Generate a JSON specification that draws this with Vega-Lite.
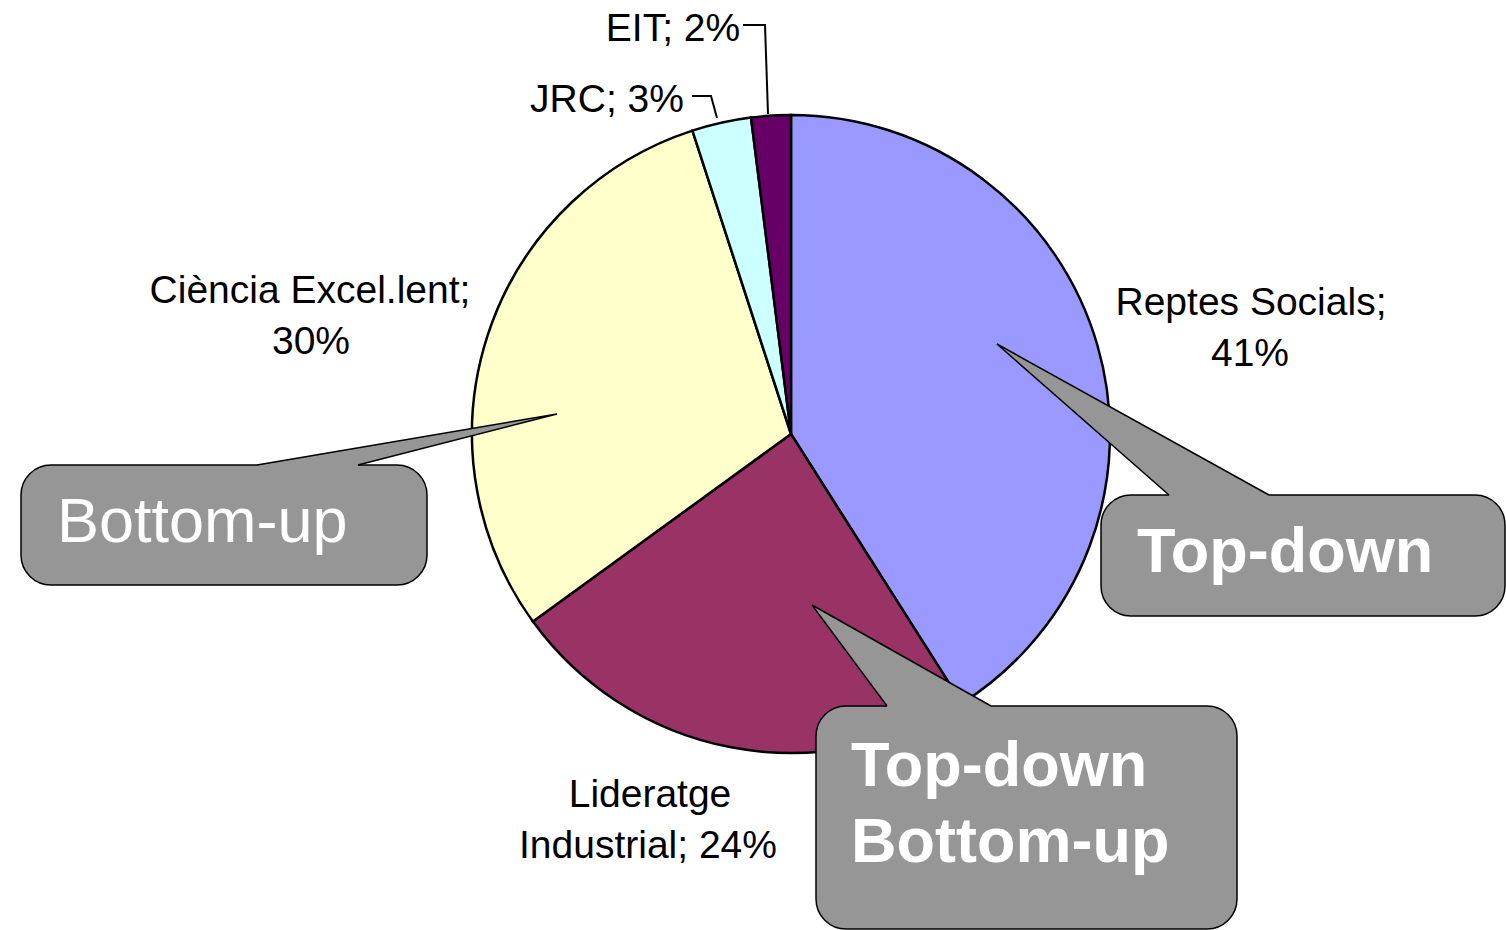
{
  "$schema": "https://vega.github.io/schema/vega-lite/v6.json",
  "autosize": {"type": "fit", "contains": "padding"},
  "width": 1506,
  "height": 930,
  "padding": 0,
  "background": "white",
  "config": {"view": {"stroke": null}},
  "datasets": {
    "pie": [
      {"category": "Reptes Socials", "value": 41, "o": 1},
      {"category": "Lideratge Industrial", "value": 24, "o": 2},
      {"category": "Ciència Excel.lent", "value": 30, "o": 3},
      {"category": "JRC", "value": 3, "o": 4},
      {"category": "EIT", "value": 2, "o": 5}
    ],
    "labels": [
      {"text": "Reptes Socials;", "x": 1251, "y": 315},
      {"text": "41%", "x": 1250, "y": 366},
      {"text": "Ciència Excel.lent;", "x": 310, "y": 303},
      {"text": "30%", "x": 311, "y": 354},
      {"text": "Lideratge", "x": 650, "y": 807},
      {"text": "Industrial; 24%", "x": 648, "y": 858},
      {"text": "JRC; 3%", "x": 607, "y": 112},
      {"text": "EIT; 2%", "x": 673, "y": 41}
    ],
    "leaders": [
      {"id": "JRC", "i": 0, "x": 692, "y": 96},
      {"id": "JRC", "i": 1, "x": 711, "y": 96},
      {"id": "JRC", "i": 2, "x": 717, "y": 118},
      {"id": "EIT", "i": 0, "x": 743, "y": 25},
      {"id": "EIT", "i": 1, "x": 765, "y": 25},
      {"id": "EIT", "i": 2, "x": 768, "y": 114}
    ],
    "boxes": [
      {"id": "a", "x": 21, "x2": 427, "y": 465, "y2": 585},
      {"id": "b", "x": 1101, "x2": 1505, "y": 495, "y2": 616},
      {"id": "c", "x": 816, "x2": 1237, "y": 706, "y2": 929}
    ],
    "pointerFill": [
      {"id": "a", "i": 0, "x": 257, "y": 465},
      {"id": "a", "i": 1, "x": 557, "y": 414},
      {"id": "a", "i": 2, "x": 358, "y": 465},
      {"id": "a", "i": 3, "x": 358, "y": 470},
      {"id": "a", "i": 4, "x": 257, "y": 470},
      {"id": "b", "i": 0, "x": 1169, "y": 495},
      {"id": "b", "i": 1, "x": 997, "y": 344},
      {"id": "b", "i": 2, "x": 1269, "y": 495},
      {"id": "b", "i": 3, "x": 1269, "y": 500},
      {"id": "b", "i": 4, "x": 1169, "y": 500},
      {"id": "c", "i": 0, "x": 887, "y": 706},
      {"id": "c", "i": 1, "x": 812, "y": 605},
      {"id": "c", "i": 2, "x": 991, "y": 706},
      {"id": "c", "i": 3, "x": 991, "y": 711},
      {"id": "c", "i": 4, "x": 887, "y": 711}
    ],
    "pointerEdge": [
      {"id": "a", "i": 0, "x": 257, "y": 465},
      {"id": "a", "i": 1, "x": 557, "y": 414},
      {"id": "a", "i": 2, "x": 358, "y": 465},
      {"id": "b", "i": 0, "x": 1169, "y": 495},
      {"id": "b", "i": 1, "x": 997, "y": 344},
      {"id": "b", "i": 2, "x": 1269, "y": 495},
      {"id": "c", "i": 0, "x": 887, "y": 706},
      {"id": "c", "i": 1, "x": 812, "y": 605},
      {"id": "c", "i": 2, "x": 991, "y": 706}
    ],
    "calloutText": [
      {"text": "Bottom-up", "x": 57, "y": 542, "bold": 0},
      {"text": "Top-down", "x": 1137, "y": 572, "bold": 1},
      {"text": "Top-down", "x": 851, "y": 786, "bold": 1},
      {"text": "Bottom-up", "x": 851, "y": 862, "bold": 1}
    ]
  },
  "layer": [
    {
      "data": {"name": "pie"},
      "mark": {"type": "arc", "outerRadius": 319, "stroke": "black", "strokeWidth": 2.5},
      "encoding": {
        "x": {"datum": 791, "type": "quantitative", "scale": {"domain": [0, 1506], "nice": false, "zero": false}, "axis": null},
        "y": {"datum": 434, "type": "quantitative", "scale": {"domain": [0, 930], "nice": false, "zero": false, "reverse": true}, "axis": null},
        "theta": {"field": "value", "type": "quantitative", "stack": true},
        "order": {"field": "o", "type": "quantitative"},
        "color": {
          "field": "category",
          "type": "nominal",
          "scale": {
            "domain": ["Reptes Socials", "Lideratge Industrial", "Ciència Excel.lent", "JRC", "EIT"],
            "range": ["#9999FF", "#993366", "#FFFFCC", "#CCFFFF", "#660066"]
          },
          "legend": null
        }
      }
    },
    {
      "data": {"name": "labels"},
      "mark": {"type": "text", "font": "Liberation Sans", "fontSize": 39, "align": "center", "baseline": "alphabetic", "color": "black"},
      "encoding": {
        "x": {"field": "x", "type": "quantitative", "scale": {"domain": [0, 1506], "nice": false, "zero": false}, "axis": null},
        "y": {"field": "y", "type": "quantitative", "scale": {"domain": [0, 930], "nice": false, "zero": false, "reverse": true}, "axis": null},
        "text": {"field": "text", "type": "nominal"}
      }
    },
    {
      "data": {"name": "leaders"},
      "mark": {"type": "line", "stroke": "black", "strokeWidth": 2},
      "encoding": {
        "x": {"field": "x", "type": "quantitative", "scale": {"domain": [0, 1506], "nice": false, "zero": false}, "axis": null},
        "y": {"field": "y", "type": "quantitative", "scale": {"domain": [0, 930], "nice": false, "zero": false, "reverse": true}, "axis": null},
        "detail": {"field": "id", "type": "nominal"},
        "order": {"field": "i", "type": "quantitative"}
      }
    },
    {
      "data": {"name": "boxes"},
      "mark": {"type": "rect", "fill": "#969696", "stroke": "black", "strokeWidth": 1.5, "cornerRadius": 30},
      "encoding": {
        "x": {"field": "x", "type": "quantitative", "scale": {"domain": [0, 1506], "nice": false, "zero": false}, "axis": null},
        "x2": {"field": "x2"},
        "y": {"field": "y", "type": "quantitative", "scale": {"domain": [0, 930], "nice": false, "zero": false, "reverse": true}, "axis": null},
        "y2": {"field": "y2"}
      }
    },
    {
      "data": {"name": "pointerFill"},
      "mark": {"type": "line", "fill": "#969696", "stroke": null, "strokeWidth": 0},
      "encoding": {
        "x": {"field": "x", "type": "quantitative", "scale": {"domain": [0, 1506], "nice": false, "zero": false}, "axis": null},
        "y": {"field": "y", "type": "quantitative", "scale": {"domain": [0, 930], "nice": false, "zero": false, "reverse": true}, "axis": null},
        "detail": {"field": "id", "type": "nominal"},
        "order": {"field": "i", "type": "quantitative"}
      }
    },
    {
      "data": {"name": "pointerEdge"},
      "mark": {"type": "line", "stroke": "black", "strokeWidth": 1.5, "strokeJoin": "miter"},
      "encoding": {
        "x": {"field": "x", "type": "quantitative", "scale": {"domain": [0, 1506], "nice": false, "zero": false}, "axis": null},
        "y": {"field": "y", "type": "quantitative", "scale": {"domain": [0, 930], "nice": false, "zero": false, "reverse": true}, "axis": null},
        "detail": {"field": "id", "type": "nominal"},
        "order": {"field": "i", "type": "quantitative"}
      }
    },
    {
      "data": {"name": "calloutText"},
      "transform": [{"filter": "datum.bold == 0"}],
      "mark": {"type": "text", "font": "Liberation Sans", "fontSize": 63, "align": "left", "baseline": "alphabetic", "color": "white"},
      "encoding": {
        "x": {"field": "x", "type": "quantitative", "scale": {"domain": [0, 1506], "nice": false, "zero": false}, "axis": null},
        "y": {"field": "y", "type": "quantitative", "scale": {"domain": [0, 930], "nice": false, "zero": false, "reverse": true}, "axis": null},
        "text": {"field": "text", "type": "nominal"}
      }
    },
    {
      "data": {"name": "calloutText"},
      "transform": [{"filter": "datum.bold == 1"}],
      "mark": {"type": "text", "font": "Liberation Sans", "fontSize": 63, "fontWeight": "bold", "align": "left", "baseline": "alphabetic", "color": "white"},
      "encoding": {
        "x": {"field": "x", "type": "quantitative", "scale": {"domain": [0, 1506], "nice": false, "zero": false}, "axis": null},
        "y": {"field": "y", "type": "quantitative", "scale": {"domain": [0, 930], "nice": false, "zero": false, "reverse": true}, "axis": null},
        "text": {"field": "text", "type": "nominal"}
      }
    }
  ]
}
